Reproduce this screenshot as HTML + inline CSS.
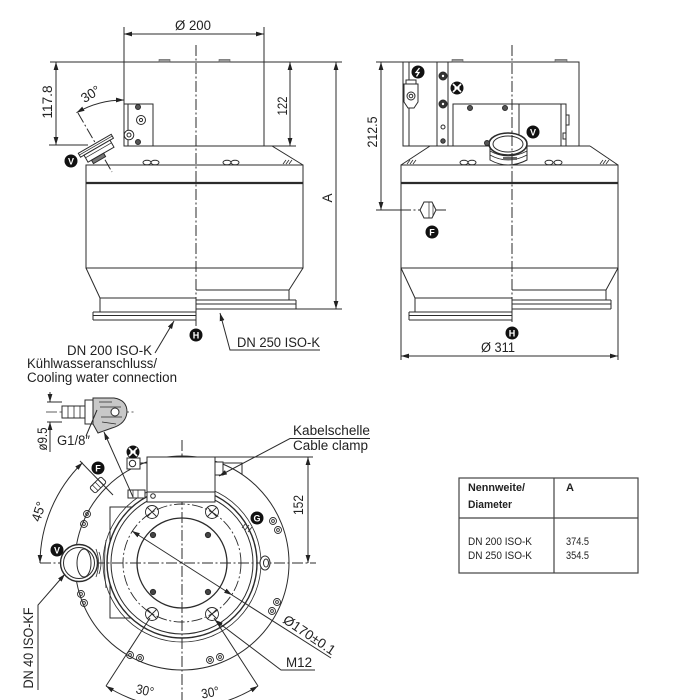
<!DOCTYPE html>
<html><head><meta charset="utf-8">
<style>html,body{margin:0;padding:0;background:#fff}svg{display:block}
.t{fill:#222;stroke:none;font-family:"Liberation Sans",Arial,sans-serif;font-size:13.5px}
.tb{fill:#222;stroke:none;font-family:"Liberation Sans Narrow","Liberation Sans",sans-serif;font-size:11px}
.cl{stroke-dasharray:11 2.5 2 2.5}
.L{fill:#fff;stroke:none;font-family:"Liberation Sans",sans-serif;font-size:9px;font-weight:bold}
</style></head><body>
<svg xmlns="http://www.w3.org/2000/svg" width="700" height="700" viewBox="0 0 700 700" fill="none" stroke="#2b2b2b" stroke-width="1">
<defs>
<marker id="ar" viewBox="0 0 8 6" refX="8" refY="3" markerWidth="8" markerHeight="6" markerUnits="userSpaceOnUse" orient="auto-start-reverse"><path d="M0,0.6 L8,3 L0,5.4z" fill="#222" stroke="none"/></marker>
</defs>
<rect x="0" y="0" width="700" height="700" fill="#fff" stroke="none"/>

<!-- ================= TOP LEFT VIEW ================= -->
<path d="M124,27V62M264,27V62"/>
<path d="M124,34H264" marker-start="url(#ar)" marker-end="url(#ar)"/>
<text class="t" x="193" y="30" text-anchor="middle" textLength="36" lengthAdjust="spacingAndGlyphs">Ø 200</text>

<rect x="124" y="62" width="140" height="84"/>
<path d="M50,62H124M264,62H342"/>
<rect x="159" y="59.5" width="11" height="2.5" fill="#999" stroke="#555" stroke-width="0.6"/>
<rect x="219" y="59.5" width="11" height="2.5" fill="#999" stroke="#555" stroke-width="0.6"/>
<path d="M56,62V145" marker-start="url(#ar)" marker-end="url(#ar)"/>
<path d="M49,145H88"/>
<text class="t" transform="translate(52,102) rotate(-90)" text-anchor="middle" textLength="33" lengthAdjust="spacingAndGlyphs">117.8</text>
<path d="M290,62V146" marker-start="url(#ar)" marker-end="url(#ar)"/>
<path d="M264,146H296"/>
<text class="t" transform="translate(287,106) rotate(-90)" text-anchor="middle" textLength="19" lengthAdjust="spacingAndGlyphs">122</text>

<!-- bracket -->
<rect x="124" y="104" width="29" height="42" fill="#fff"/>
<path d="M128,104V146"/>
<circle cx="138" cy="107" r="2.5" fill="#555"/>
<circle cx="138" cy="142" r="2.5" fill="#555"/>
<circle cx="141" cy="120" r="4.5"/><circle cx="141" cy="120" r="1.6"/>
<circle cx="129" cy="135" r="4.8" fill="#fff"/><circle cx="129" cy="135" r="2"/>

<!-- 30 deg -->
<path d="M124,100 A95,95 0 0 0 76.5,112.7" marker-start="url(#ar)" marker-end="url(#ar)"/>
<text class="t" transform="translate(93,98) rotate(-32)" text-anchor="middle" textLength="20" lengthAdjust="spacingAndGlyphs">30°</text>
<path class="cl" d="M78,113L112,172"/>

<!-- slope and band -->
<path d="M264,146H272L303,165"/>
<path d="M86,165H303V268H86Z"/>
<path d="M86,183H303" stroke-width="2.2"/>
<ellipse cx="147" cy="162.5" rx="4" ry="2.3"/><ellipse cx="155" cy="162.5" rx="4" ry="2.3"/>
<ellipse cx="227" cy="162.5" rx="4" ry="2.3"/><ellipse cx="235" cy="162.5" rx="4" ry="2.3"/>
<path d="M283,164l3,-4M286,164l3,-4M289,164l3,-4" stroke-width="0.8"/>

<!-- tilted flange -->
<g transform="translate(96,146) rotate(-30)">
<rect x="-19" y="-2.5" width="38" height="4.5" fill="#fff"/>
<path d="M-19,-0.5H19" stroke-width="0.8"/>
<rect x="-15" y="2" width="30" height="8" fill="#fff"/>
<path d="M-15,5H15" stroke-width="0.7"/>
<rect x="-11" y="10" width="14" height="4" fill="#777"/>
</g>
<g transform="translate(71,161)"><circle r="6.5" fill="#111" stroke="none"/><text class="L" y="3.3" text-anchor="middle">V</text></g>

<!-- cone and flanges -->
<path d="M86,268L100,298M303,268L289,290"/>
<path d="M100,298H196M100,298V312"/>
<path d="M93,312H196M93,315.5H196M93,320H196M93,312V320"/>
<path d="M196,290H289V300"/>
<path d="M196,300H296M196,304H296M196,309H296M296,300V309"/>
<path class="cl" d="M196,45V298"/>
<path d="M196,298V326"/>

<path d="M336,62V309" marker-start="url(#ar)" marker-end="url(#ar)"/>
<path d="M296,309H342"/>
<text class="t" transform="translate(332,198) rotate(-90)" text-anchor="middle">A</text>
<g transform="translate(196,335)"><circle r="6.5" fill="#111" stroke="none"/><text class="L" y="3.3" text-anchor="middle">H</text></g>

<path d="M155,353L174,321" marker-end="url(#ar)"/>
<text class="t" x="152" y="355" text-anchor="end" textLength="85" lengthAdjust="spacingAndGlyphs">DN 200 ISO-K</text>
<text class="t" x="27" y="368" textLength="130" lengthAdjust="spacingAndGlyphs">Kühlwasseranschluss/</text>
<text class="t" x="27" y="382" textLength="150" lengthAdjust="spacingAndGlyphs">Cooling water connection</text>

<path d="M320,350H230L220,313" marker-end="url(#ar)"/>
<text class="t" x="237" y="347" textLength="83" lengthAdjust="spacingAndGlyphs">DN 250 ISO-K</text>

<!-- ================= TOP RIGHT VIEW ================= -->
<rect x="403" y="62" width="176" height="84"/>
<rect x="452" y="59.5" width="11" height="2.5" fill="#999" stroke="#555" stroke-width="0.6"/>
<rect x="555" y="59.5" width="12" height="2.5" fill="#999" stroke="#555" stroke-width="0.6"/>
<path d="M376,62H403"/>
<path d="M381,62V210" marker-start="url(#ar)" marker-end="url(#ar)"/>
<text class="t" transform="translate(377,132) rotate(-90)" text-anchor="middle" textLength="31" lengthAdjust="spacingAndGlyphs">212.5</text>
<path d="M409,62V146M437,62V146M448,62V146"/>
<circle cx="443" cy="76" r="4" fill="#333"/><circle cx="443" cy="76" r="1.2" fill="#fff" stroke="none"/>
<circle cx="443" cy="104" r="4" fill="#333"/><circle cx="443" cy="104" r="1.2" fill="#fff" stroke="none"/>
<circle cx="443" cy="127" r="2"/><circle cx="443" cy="141" r="2.2" fill="#555"/>
<!-- plug -->
<rect x="406" y="80" width="10" height="4" fill="#fff"/>
<path d="M404,84H418V102L414,108H408L404,102Z" fill="#fff"/>
<circle cx="411" cy="96" r="4"/><circle cx="411" cy="96" r="1.8"/>
<g transform="translate(418,72)"><circle r="6.5" fill="#111" stroke="none"/><path d="M1.5,-4L-2,0.5H1L-1.5,4.5" stroke="#fff" stroke-width="1.3"/></g>
<g transform="translate(457,88)"><circle r="6.5" fill="#111" stroke="none"/><path d="M-4,-4L4,4M4,-4L-4,4" stroke="#fff" stroke-width="1.6"/><path d="M-2.5,0H2.5" stroke="#fff" stroke-width="2"/></g>
<!-- inner box -->
<rect x="453" y="104" width="113" height="42" fill="#fff"/>
<path d="M519,104V146M561,104V146"/>
<circle cx="470" cy="108" r="2.5" fill="#555"/><circle cx="505" cy="108" r="2.5" fill="#555"/>
<rect x="566" y="115" width="3" height="10"/><rect x="563" y="133" width="3" height="6"/>
<g transform="translate(533,132)"><circle r="6.5" fill="#111" stroke="none"/><text class="L" y="3.3" text-anchor="middle">V</text></g>
<!-- slope / band -->
<path d="M430,146L401,165M590,146L618,165M403,146H590"/>
<path d="M401,165H618V268H401Z"/>
<path d="M401,183H618" stroke-width="2.2"/>
<ellipse cx="464" cy="162.5" rx="4" ry="2.3"/><ellipse cx="472" cy="162.5" rx="4" ry="2.3"/>
<ellipse cx="549" cy="162.5" rx="4" ry="2.3"/><ellipse cx="558" cy="162.5" rx="4" ry="2.3"/>
<path d="M407,164l3,-4M410,164l3,-4M413,164l3,-4M600,164l3,-4M603,164l3,-4M606,164l3,-4" stroke-width="0.8"/>
<!-- top flange -->
<path d="M490,146V160Q508,170 527,160V146" fill="#fff"/>
<path d="M490,151Q508,161 527,151M490,155Q508,165 527,155" stroke-width="0.8"/>
<rect x="503" y="157" width="14" height="3" fill="#666" stroke="none"/>
<ellipse cx="508" cy="144" rx="19" ry="11" fill="#fff" stroke-width="1.6"/>
<ellipse cx="508" cy="144" rx="15" ry="8"/>
<circle cx="487" cy="143" r="2.5" fill="#555"/>
<path class="cl" d="M512,45V298"/>
<path d="M512,298V322"/>
<!-- F nut -->
<path d="M376,210H400"/>
<path class="cl" d="M400,210H446"/>
<path d="M424,202L432,202L436,210L432,218L424,218L420,210Z" fill="#fff"/>
<path d="M429,202V218M433,204V216" stroke-width="0.7"/>
<g transform="translate(432,232)"><circle r="6.5" fill="#111" stroke="none"/><text class="L" y="3.3" text-anchor="middle">F</text></g>
<!-- cone / flanges -->
<path d="M401,268L415,298M618,268L606,290"/>
<path d="M415,298H512M415,298V312"/>
<path d="M409,312H512M409,315.5H512M409,320H512M409,312V320"/>
<path d="M512,290H606V300"/>
<path d="M512,300H611M512,304H611M512,309H611M611,300V309"/>
<g transform="translate(512,333)"><circle r="6.5" fill="#111" stroke="none"/><text class="L" y="3.3" text-anchor="middle">H</text></g>
<path d="M401,268V360M618,268V360"/>
<path d="M401,356H618" marker-start="url(#ar)" marker-end="url(#ar)"/>
<text class="t" x="498" y="352" text-anchor="middle" textLength="34" lengthAdjust="spacingAndGlyphs">Ø 311</text>

<!-- ================= BOTTOM VIEW ================= -->
<!-- outer flange -->
<circle cx="182" cy="563" r="107"/>
<!-- left housing -->
<rect x="110" y="507" width="50" height="111" fill="#fff"/>
<path d="M106,540Q103,563 106,588" stroke-width="0.8"/>
<circle cx="182" cy="563" r="79" stroke-width="0.8"/>
<circle cx="182" cy="563" r="75" fill="#fff" stroke-width="1.4"/>
<circle cx="182" cy="563" r="71"/>
<circle class="cl" cx="182" cy="563" r="59" stroke-width="0.9"/>
<circle cx="182" cy="563" r="45" stroke-width="1.3"/>
<!-- bolt holes -->
<g stroke-width="0.9">
<circle cx="152" cy="512" r="6.5"/><path d="M147,507l10,10M157,507l-10,10"/>
<circle cx="212" cy="512" r="6.5"/><path d="M207,507l10,10M217,507l-10,10"/>
<circle cx="152" cy="614" r="6.5"/><path d="M147,609l10,10M157,609l-10,10"/>
<circle cx="212" cy="614" r="6.5"/><path d="M207,609l10,10M217,609l-10,10"/>
</g>
<circle cx="153" cy="535" r="2.6" fill="#444"/><circle cx="208" cy="535" r="2.6" fill="#444"/>
<circle cx="153" cy="592" r="2.6" fill="#444"/><circle cx="208" cy="592" r="2.6" fill="#444"/>
<!-- centerlines -->
<path class="cl" d="M182,440V700"/>
<path class="cl" d="M40,563H316"/>
<!-- top box -->
<rect x="147" y="457" width="68" height="45" fill="#fff"/>
<path d="M147,492H215"/>
<circle cx="153" cy="496" r="2.3"/>
<path d="M215,457H313"/>
<rect x="215" y="462" width="8" height="13" fill="#fff"/>
<path d="M223,463H242V474"/>
<rect x="127" y="458" width="13" height="11" fill="#fff"/>
<circle cx="132.5" cy="463.5" r="3.2"/>
<path d="M140,463H147"/>
<rect x="128" y="490" width="17" height="8" fill="#fff"/>
<path d="M133,490V498M138,490V498" stroke-width="0.7"/>
<g transform="translate(133,452)"><circle r="6.5" fill="#111" stroke="none"/><path d="M-4,-4L4,4M4,-4L-4,4" stroke="#fff" stroke-width="1.6"/><path d="M-2.5,0H2.5" stroke="#fff" stroke-width="2"/></g>
<!-- small pairs of holes -->
<g stroke-width="0.9">
<circle cx="87" cy="514" r="3.5"/><circle cx="87" cy="514" r="1.4"/>
<circle cx="84" cy="524" r="3.5"/><circle cx="84" cy="524" r="1.4"/>
<circle cx="81" cy="594" r="3.5"/><circle cx="81" cy="594" r="1.4"/>
<circle cx="84" cy="603" r="3.5"/><circle cx="84" cy="603" r="1.4"/>
<circle cx="273" cy="521" r="3.5"/><circle cx="273" cy="521" r="1.4"/>
<circle cx="278" cy="530" r="3.5"/><circle cx="278" cy="530" r="1.4"/>
<circle cx="277" cy="602" r="3.5"/><circle cx="277" cy="602" r="1.4"/>
<circle cx="272" cy="611" r="3.5"/><circle cx="272" cy="611" r="1.4"/>
<circle cx="130" cy="655" r="3.5"/><circle cx="130" cy="655" r="1.4"/>
<circle cx="140" cy="658" r="3.5"/><circle cx="140" cy="658" r="1.4"/>
<circle cx="210" cy="660" r="3.5"/><circle cx="210" cy="660" r="1.4"/>
<circle cx="220" cy="657" r="3.5"/><circle cx="220" cy="657" r="1.4"/>
</g>
<!-- right hole + G -->
<ellipse cx="265" cy="563" rx="5" ry="7" fill="#fff"/><ellipse cx="266" cy="563" rx="2.5" ry="4"/>
<path d="M242,528l4,-5M245,530l4,-5M248,532l4,-5" stroke-width="0.8"/>
<g transform="translate(257,518)"><circle r="6.5" fill="#111" stroke="none"/><text class="L" y="3.3" text-anchor="middle">G</text></g>
<!-- V flange left -->
<circle cx="79" cy="563" r="18.5" fill="#fff" stroke-width="1.4"/>
<circle cx="79" cy="563" r="15.5"/>
<ellipse cx="84" cy="563" rx="7" ry="14"/>
<path d="M96,549Q101,563 96,577M99,552Q103,563 99,574" stroke-width="0.8"/>
<g transform="translate(57,550)"><circle r="6.5" fill="#111" stroke="none"/><text class="L" y="3.3" text-anchor="middle">V</text></g>
<path d="M38,690V605L65,574" marker-end="url(#ar)"/>
<text class="t" transform="translate(33,648) rotate(-90)" text-anchor="middle" textLength="81" lengthAdjust="spacingAndGlyphs">DN 40 ISO-KF</text>
<!-- F nut -->
<g transform="translate(98,485) rotate(-45)"><rect x="-8" y="-4" width="16" height="8" rx="2" fill="#fff"/><path d="M-4,-4V4M0,-4V4M4,-4V4" stroke-width="0.7"/></g>
<g transform="translate(98,468)"><circle r="6.5" fill="#111" stroke="none"/><text class="L" y="3.3" text-anchor="middle">F</text></g>
<!-- 45 deg -->
<path d="M82.6,462.6 A142,142 0 0 0 40,563" marker-start="url(#ar)" marker-end="url(#ar)"/>
<path d="M80,461L113,495"/>
<text class="t" transform="translate(43,513) rotate(-72)" text-anchor="middle" textLength="20" lengthAdjust="spacingAndGlyphs">45°</text>
<!-- 30 deg bottom -->
<path d="M150,618L106,686M214,618L258,686"/>
<path d="M106,686 A144,144 0 0 0 157,706" marker-start="url(#ar)"/>
<path d="M258,686 A144,144 0 0 1 207,706" marker-start="url(#ar)"/>
<text class="t" transform="translate(144,695) rotate(12)" text-anchor="middle" textLength="18" lengthAdjust="spacingAndGlyphs">30°</text>
<text class="t" transform="translate(211,697) rotate(-10)" text-anchor="middle" textLength="18" lengthAdjust="spacingAndGlyphs">30°</text>
<!-- diameter 170 -->
<path d="M132,531L232,595" marker-start="url(#ar)" marker-end="url(#ar)"/>
<path d="M232,595L331,658"/>
<text class="t" transform="translate(282,622) rotate(34)" textLength="60" lengthAdjust="spacingAndGlyphs">Ø170±0.1</text>
<!-- M12 -->
<path d="M315,670H281L215,620" marker-end="url(#ar)"/>
<text class="t" x="286" y="667" textLength="26" lengthAdjust="spacingAndGlyphs">M12</text>
<!-- 152 -->
<path d="M308,457V563" marker-start="url(#ar)" marker-end="url(#ar)"/>
<text class="t" transform="translate(303,505) rotate(-90)" text-anchor="middle" textLength="20" lengthAdjust="spacingAndGlyphs">152</text>
<!-- cable clamp -->
<path d="M370,438.5H290L219,476" marker-end="url(#ar)"/>
<text class="t" x="293" y="435" textLength="77" lengthAdjust="spacingAndGlyphs">Kabelschelle</text>
<text class="t" x="293" y="450" textLength="75" lengthAdjust="spacingAndGlyphs">Cable clamp</text>
<!-- G1/8 detail -->
<path class="cl" d="M46,412H134" stroke-width="0.8"/>
<path d="M47,402H62M47,422H62"/>
<path d="M50,392V402" marker-end="url(#ar)"/>
<path d="M50,452V422" marker-end="url(#ar)"/>
<rect x="62" y="406" width="23" height="12" fill="#fff"/>
<path d="M68,406V418M74,406V418M80,406V418" stroke-width="0.8"/>
<rect x="85" y="400" width="8" height="24" fill="#fff"/>
<path d="M93,398H114Q127,400 127,412Q126,424 112,428L98,433L93,424Z" fill="#c8c8c8"/>
<path d="M99,402L112,402M100,407L121,407M101,417L122,417M102,422L116,424" stroke-width="0.7"/>
<circle cx="115" cy="412" r="4" fill="#fff"/>
<text class="t" transform="translate(47,439) rotate(-90)" text-anchor="middle" textLength="23" lengthAdjust="spacingAndGlyphs">ø9.5</text>
<text class="t" x="57" y="445" textLength="33" lengthAdjust="spacingAndGlyphs">G1/8″</text>
<path d="M86,436L97,410"/>
<path d="M133,497L104,432" marker-end="url(#ar)"/>

<!-- ================= TABLE ================= -->
<rect x="459" y="478" width="179" height="95" stroke="#444" stroke-width="1.2"/>
<path d="M459,518H638M554,478V573" stroke="#444" stroke-width="1.2"/>
<text class="tb" x="468" y="491" font-weight="bold" textLength="57" lengthAdjust="spacingAndGlyphs">Nennweite/</text>
<text class="tb" x="468" y="508" font-weight="bold" textLength="44" lengthAdjust="spacingAndGlyphs">Diameter</text>
<text class="tb" x="566" y="491" font-weight="bold">A</text>
<text class="tb" x="468" y="545" textLength="64" lengthAdjust="spacingAndGlyphs">DN 200 ISO-K</text>
<text class="tb" x="468" y="559" textLength="64" lengthAdjust="spacingAndGlyphs">DN 250 ISO-K</text>
<text class="tb" x="566" y="545" textLength="23" lengthAdjust="spacingAndGlyphs">374.5</text>
<text class="tb" x="566" y="559" textLength="23" lengthAdjust="spacingAndGlyphs">354.5</text>
</svg>
</body></html>
